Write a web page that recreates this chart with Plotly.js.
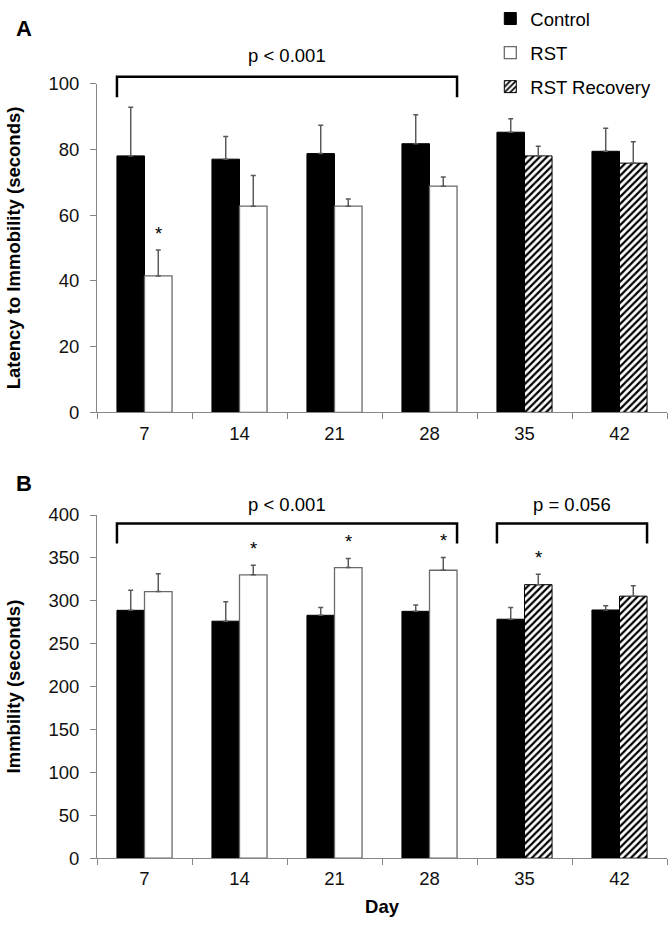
<!DOCTYPE html>
<html>
<head>
<meta charset="utf-8">
<script src="https://cdn.plot.ly/plotly-3.0.1.min.js"></script>
<style>html,body{margin:0;padding:0;background:#fff;}</style>
</head>
<body>
<div id="chart" style="width:672px;height:927px;"></div>
<script>
// ---------- data ----------
const days = ['7', '14', '21', '28', '35', '42'];
const seriesNames = ['Control', 'RST', 'RST Recovery'];

// Panel A: Latency to Immobility (seconds)
const latControl    = [78.0, 77.0, 78.7, 81.7, 85.2, 79.4];
const latControlErr = [14.8, 6.9, 8.6, 8.8, 4.1, 7.0];
const latRST        = [41.5, 62.7, 62.7, 68.8, null, null];
const latRSTErr     = [7.9, 9.3, 2.2, 2.8, null, null];
const latRec        = [null, null, null, null, 78.0, 75.8];
const latRecErr     = [null, null, null, null, 2.9, 6.5];
const latRSTSig     = [true, false, false, false, false, false];
const latRecSig     = [false, false, false, false, false, false];

// Panel B: Immobility (seconds)
const immControl    = [288.9, 276.2, 283.1, 287.7, 278.5, 289.3];
const immControlErr = [23.4, 22.7, 9.2, 7.3, 13.8, 5.0];
const immRST        = [310.7, 330.3, 338.7, 335.6, null, null];
const immRSTErr     = [20.9, 11.1, 10.7, 15.0, null, null];
const immRec        = [null, null, null, null, 318.8, 305.4];
const immRecErr     = [null, null, null, null, 12.2, 12.2];
const immRSTSig     = [false, true, true, true, false, false];
const immRecSig     = [false, false, false, false, true, false];

// group comparisons: [first day index, last day index, label]
const bracketsA = [[0, 3, 'p < 0.001']];
const bracketsB = [[0, 3, 'p < 0.001'], [4, 5, 'p = 0.056']];

// ---------- style ----------
const FONT = 'Liberation Sans, Arial, sans-serif';
const FS = 18.5;
const axisGrey = '#868686';
const errGrey = '#595959';
const BARW = 0.29;           // bar width in category units
const domA = [0.5606, 0.9188];
const domB = [0.0750, 0.4488];
const rangeA = [0, 100];
const rangeB = [0, 400];

function errObj(arr) {
  return {type: 'data', symmetric: false, array: arr, arrayminus: arr.map(v => v == null ? null : 0),
          color: errGrey, thickness: 1.5, width: 2.5, visible: true};
}
function styleFor(name) {
  if (name === 'Control') return {color: '#000', line: {color: '#000', width: 1}};
  if (name === 'RST') return {color: '#fff', line: {color: '#6a6a6a', width: 1.3}};
  return {color: '#fff', line: {color: '#000', width: 1},
          pattern: {shape: '/', fgcolor: '#000', bgcolor: '#fff', size: 5, solidity: 0.45}};
}
function bar(name, vals, errs, xa, ya, showleg) {
  return {
    type: 'bar', name: name, x: days, y: vals, xaxis: xa, yaxis: ya,
    offsetgroup: name === 'Control' ? 'c' : 'r',
    legendgroup: name, showlegend: showleg,
    marker: styleFor(name), error_y: errObj(errs), hoverinfo: 'skip'
  };
}

const data = [
  bar('Control', latControl, latControlErr, 'x', 'y', true),
  bar('RST', latRST, latRSTErr, 'x', 'y', true),
  bar('RST Recovery', latRec, latRecErr, 'x', 'y', true),
  bar('Control', immControl, immControlErr, 'x2', 'y2', false),
  bar('RST', immRST, immRSTErr, 'x2', 'y2', false),
  bar('RST Recovery', immRec, immRecErr, 'x2', 'y2', false)
];

// ---------- annotations & shapes ----------
const annotations = [];
const shapes = [];
function addStars(vals, errs, sig, xr, yr) {
  vals.forEach((v, i) => {
    if (sig[i] && v != null) {
      annotations.push({x: i + BARW / 2, y: v + errs[i], xref: xr, yref: yr, text: '*',
        showarrow: false, yanchor: 'bottom', yshift: 4, font: {family: FONT, size: FS, color: '#000'}});
    }
  });
}
addStars(latRST, latRSTErr, latRSTSig, 'x', 'y');
addStars(latRec, latRecErr, latRecSig, 'x', 'y');
addStars(immRST, immRSTErr, immRSTSig, 'x2', 'y2');
addStars(immRec, immRecErr, immRecSig, 'x2', 'y2');

function px(idx) { return (idx + 0.5) / days.length; }
function py(v, dom, rng) { return dom[0] + (v - rng[0]) / (rng[1] - rng[0]) * (dom[1] - dom[0]); }
function addBrackets(list, dom, rng, yTop, yLeg, yText) {
  list.forEach(([a, b, label]) => {
    const x0 = px(a - BARW), x1 = px(b + BARW);
    const t = py(yTop, dom, rng), l = py(yLeg, dom, rng);
    shapes.push({type: 'path', xref: 'paper', yref: 'paper',
      path: `M${x0},${l} L${x0},${t} L${x1},${t} L${x1},${l}`,
      line: {color: '#000', width: 2.5}});
    annotations.push({x: px((a + b) / 2), y: py(yText, dom, rng), xref: 'paper', yref: 'paper',
      text: label, showarrow: false, xanchor: 'center', yanchor: 'middle',
      font: {family: FONT, size: FS, color: '#000'}});
  });
}
addBrackets(bracketsA, domA, rangeA, 102.1, 95.8, 108.6);
addBrackets(bracketsB, domB, rangeB, 390, 366.7, 412);

annotations.push({x: -0.1456, y: 1 - 20 / 927, xref: 'paper', yref: 'paper', text: '<b>A</b>', showarrow: false,
  xanchor: 'left', yanchor: 'middle', font: {family: FONT, size: 22, color: '#000'}});
annotations.push({x: -0.1456, y: 1 - 479 / 927, xref: 'paper', yref: 'paper', text: '<b>B</b>', showarrow: false,
  xanchor: 'left', yanchor: 'middle', font: {family: FONT, size: 22, color: '#000'}});

// ---------- axes ----------
function xAxis(anchor, title) {
  const ax = {
    type: 'category', anchor: anchor, domain: [0, 1], range: [-0.5, 5.5],
    showline: true, linecolor: axisGrey, linewidth: 1,
    ticks: 'outside', tickson: 'boundaries', ticklen: 6, tickcolor: axisGrey, tickwidth: 1,
    tickfont: {family: FONT, size: FS, color: '#111'}, ticklabelstandoff: 4,
    showgrid: false, zeroline: false, fixedrange: true, automargin: false
  };
  if (title) ax.title = {text: '<b>' + title + '</b>', font: {family: FONT, size: FS, color: '#000'}, standoff: 11};
  return ax;
}
function yAxis(anchor, dom, rng, dtick, title) {
  return {
    anchor: anchor, domain: dom, range: rng, dtick: dtick, tick0: 0,
    showline: true, linecolor: axisGrey, linewidth: 1,
    ticks: 'outside', ticklen: 6, tickcolor: axisGrey, tickwidth: 1,
    tickfont: {family: FONT, size: FS, color: '#111'}, ticklabelstandoff: 7,
    showgrid: false, zeroline: false, fixedrange: true, automargin: false,
    title: {text: '<b>' + title + '</b>', font: {family: FONT, size: FS, color: '#000'}, standoff: 22}
  };
}

const layout = {
  width: 672, height: 927,
  margin: {l: 97, r: 5, t: 0, b: 0},
  paper_bgcolor: '#fff', plot_bgcolor: 'rgba(0,0,0,0)',
  font: {family: FONT, size: FS, color: '#000'},
  barmode: 'group', bargap: 1 - 2 * BARW, bargroupgap: 0,
  xaxis: xAxis('y', null),
  yaxis: yAxis('x', domA, rangeA, 20, 'Latency to Immobility (seconds)'),
  xaxis2: xAxis('y2', 'Day'),
  yaxis2: yAxis('x2', domB, rangeB, 50, 'Immbility (seconds)'),
  showlegend: true,
  legend: {x: 0.69, xanchor: 'left', y: 1.01, yanchor: 'top', yref: 'paper',
    bgcolor: 'rgba(0,0,0,0)', borderwidth: 0, traceorder: 'grouped', tracegroupgap: 7,
    font: {family: FONT, size: FS, color: '#000'}, itemclick: false, itemdoubleclick: false},
  annotations: annotations,
  shapes: shapes
};

Plotly.newPlot('chart', data, layout, {displayModeBar: false, staticPlot: true});
</script>
</body>
</html>
